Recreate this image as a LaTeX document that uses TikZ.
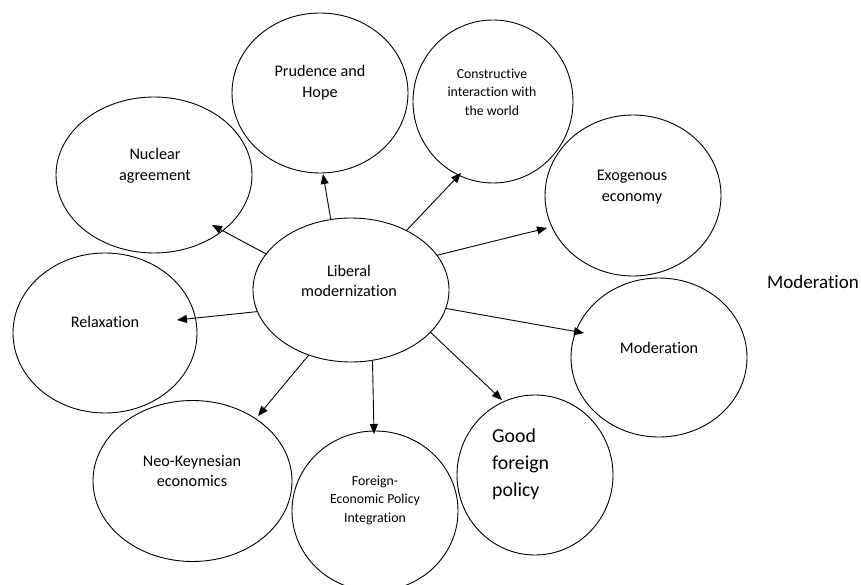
\documentclass[tikz,border=0pt]{standalone}
\usepackage{fontspec}
\setmainfont{Carlito}[Ligatures=NoCommon]
\usetikzlibrary{shapes.geometric,arrows.meta}
\begin{document}
\begin{tikzpicture}[x=1pt,y=-1pt,
  bub/.style={draw, ellipse, line width=0.9pt, inner sep=0pt, outer sep=0pt},
  lbl/.style={align=center, inner sep=0pt, font=\fontsize{16.2}{20.5}\selectfont},
  sml/.style={align=center, inner sep=0pt, font=\fontsize{13.8}{18.5}\selectfont},
  big/.style={inner sep=0pt, font=\fontsize{19.8}{27}\selectfont},
  arr/.style={line width=0.9pt, -{Triangle[length=10pt,width=8pt]}}]
\useasboundingbox (0,0) rectangle (861,585);

% ellipses
\node[bub, minimum width=196pt, minimum height=144pt] (lm) at (351,290) {};
\node[bub, minimum width=176pt, minimum height=160pt] (prud) at (320,93) {};
\node[bub, minimum width=160pt, minimum height=163pt] (cons) at (493,101.5) {};
\node[bub, minimum width=176pt, minimum height=161pt] (exo) at (633,195.5) {};
\node[bub, minimum width=196pt, minimum height=156pt] (nuc) at (154,175) {};
\node[bub, minimum width=184pt, minimum height=160pt] (rel) at (105,333) {};
\node[bub, minimum width=176pt, minimum height=159pt] (mod) at (659,357.5) {};
\node[bub, minimum width=156pt, minimum height=160pt] (good) at (535,475) {};
\node[bub, minimum width=166pt, minimum height=160pt] (fep) at (375,511) {};
\node[bub, minimum width=199pt, minimum height=161pt] (neo) at (192.5,481) {};

% texts
\node[lbl] (tlm) at (349,281) {Liberal\\modernization};
\node[lbl] (tprud) at (320,82.5) {Prudence and\\Hope};
\node[sml] (tcons) at (492,92) {Constructive\\interaction with\\the world};
\node[lbl] (texo) at (632,187) {Exogenous\\economy};
\node[lbl] (tnuc) at (155,166) {Nuclear\\agreement};
\node[lbl] (trel) at (105,322) {Relaxation};
\node[lbl] (tmod) at (659,348) {Moderation};
\node[big, align=left, anchor=west] (tgood) at (492,464) {Good\\foreign\\policy};
\node[sml] (tfep) at (375,500) {Foreign-\\Economic Policy\\Integration};
\node[lbl] (tneo) at (192,471) {Neo-Keynesian\\economics};
\node[inner sep=0pt, font=\fontsize{19}{23}\selectfont] (side) at (813,282) {Moderation};

% arrow tips
\coordinate (kprud) at (323,174);
\coordinate (kcons) at (461,173);
\coordinate (kexo) at (547,228);
\coordinate (kmod) at (584,333);
\coordinate (kgood) at (502,400);
\coordinate (kfep) at (374,434);
\coordinate (kneo) at (258,416);
\coordinate (krel) at (177,320);
\coordinate (knuc) at (212,225);

% arrows
\draw[arr] (lm.106.8) -- (kprud);
\draw[arr] (lm.47.4) -- (kcons);
\draw[arr] (lm.22.5) -- (kexo);
\draw[arr] (lm.-11.9) -- (kmod);
\draw[arr] (lm.-28.6) -- (kgood);
\draw[arr] (lm.-73.2) -- (kfep);
\draw[arr] (lm.-123.1) -- (kneo);
\draw[arr] (lm.193.6) -- (krel);
\draw[arr] (lm.157.8) -- (knuc);
\end{tikzpicture}
\end{document}
